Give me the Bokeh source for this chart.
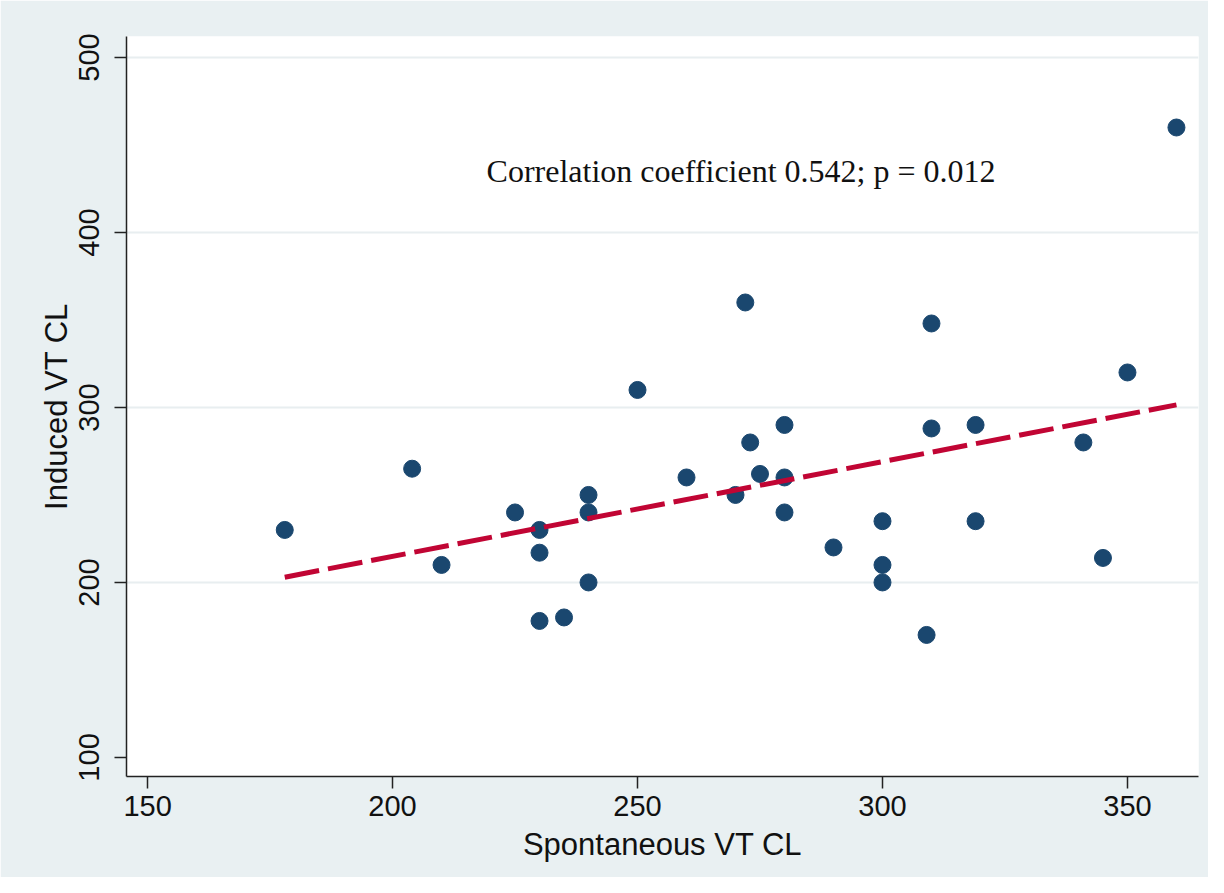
from bokeh.plotting import figure
from bokeh.models import FixedTicker, Range1d
from bokeh.core.properties import value
from bokeh.embed import file_html
from bokeh.resources import INLINE

# Data
spontaneous = [178, 204, 210, 225, 230, 230, 230, 235, 240, 240, 240, 250, 260, 270, 272,
               273, 275, 280, 280, 280, 290, 300, 300, 300, 309, 310, 310, 319, 319, 341,
               345, 350, 360]
induced = [230, 265, 210, 240, 230, 217, 178, 180, 250, 240, 200, 310, 260, 250, 360,
           280, 262, 290, 260, 240, 220, 235, 210, 200, 170, 348, 288, 290, 235, 280,
           214, 320, 460]
fit_x = [178, 360]
fit_y = [203, 301.5]
x_ticks = [150, 200, 250, 300, 350]
y_ticks = [100, 200, 300, 400, 500]
grid_ticks = [200, 300, 400, 500]
annotation = "Correlation coefficient 0.542; p = 0.012"
ann_x, ann_y = 219.2, 435.0

BG = "#E9F0F2"
NAVY = "#1A476F"
RED = "#C10534"
SANS = "Liberation Sans"

p = figure(width=1208, height=877, output_backend="svg", toolbar_location=None,
           x_range=Range1d(145.7, 364.5), y_range=Range1d(89.1, 512.0),
           min_border_left=126, min_border_right=10, min_border_top=36,
           min_border_bottom=101)
p.border_fill_color = BG
p.background_fill_color = "white"
p.outline_line_color = None

p.xgrid.visible = False
p.ygrid.ticker = FixedTicker(ticks=grid_ticks)
p.ygrid.grid_line_color = "#E8EEF0"
p.ygrid.grid_line_width = 2

for ax in (p.xaxis[0], p.yaxis[0]):
    ax.axis_line_color = "#222222"
    ax.axis_line_width = 1.5
    ax.major_tick_line_color = "#222222"
    ax.major_tick_line_width = 1.5
    ax.major_tick_out = 12
    ax.major_tick_in = 0
    ax.minor_tick_line_color = None
    ax.major_label_text_font = SANS
    ax.major_label_text_font_size = "29px"
    ax.major_label_text_color = "#111111"
    ax.axis_label_text_font = SANS
    ax.axis_label_text_font_size = "31px"
    ax.axis_label_text_font_style = "normal"
    ax.axis_label_text_color = "#111111"

p.xaxis.ticker = FixedTicker(ticks=x_ticks)
p.yaxis.ticker = FixedTicker(ticks=y_ticks)
p.xaxis.axis_label = "Spontaneous VT CL"
p.yaxis.axis_label = "Induced VT CL"
p.yaxis.major_label_orientation = "vertical"
p.xaxis.major_label_standoff = 7
p.yaxis.major_label_standoff = 15
p.xaxis.axis_label_standoff = 8
p.yaxis.axis_label_standoff = 3

p.scatter(spontaneous, induced, size=17, fill_color=NAVY, line_color=NAVY)
p.line(fit_x, fit_y, line_color=RED, line_width=5, line_dash="35 9", line_cap="butt")

p.text(x=[ann_x], y=[ann_y], text=[annotation], text_font=value("Liberation Serif"),
       text_font_size="32px", text_align="left", text_baseline="alphabetic",
       text_color="#111111")

open("out.html", "w").write(file_html(p, INLINE))
